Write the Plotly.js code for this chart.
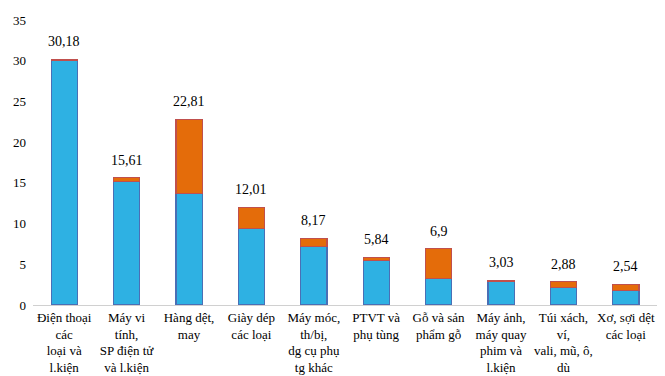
<!DOCTYPE html>
<html>
<head>
<meta charset="utf-8">
<script src="https://cdn.plot.ly/plotly-3.0.1.min.js"></script>
<style>body{margin:0;background:#fff}#chart{width:665px;height:376px}</style>
</head>
<body>
<div id="chart"></div>
<script>
const categories = [
  "Điện thoại<br>các<br>loại và<br>l.kiện",
  "Máy vi<br>tính,<br>SP điện tử<br>và l.kiện",
  "Hàng dệt,<br>may",
  "Giày dép<br>các loại",
  "Máy móc,<br>th/bị,<br>dg cụ phụ<br>tg khác",
  "PTVT và<br>phụ tùng",
  "Gỗ và sản<br>phẩm gỗ",
  "Máy ảnh,<br>máy quay<br>phim và<br>l.kiện",
  "Túi xách,<br>ví,<br>vali, mũ, ô,<br>dù",
  "Xơ, sợi dệt<br>các loại"
];
const blueValues = [30.0, 15.15, 13.7, 9.37, 7.16, 5.44, 3.23, 2.86, 2.17, 1.76];
const orangeValues = [0.18, 0.46, 9.11, 2.64, 1.01, 0.40, 3.67, 0.17, 0.71, 0.78];
const totals = [30.18, 15.61, 22.81, 12.01, 8.17, 5.84, 6.9, 3.03, 2.88, 2.54];
const totalLabels = ["30,18", "15,61", "22,81", "12,01", "8,17", "5,84", "6,9", "3,03", "2,88", "2,54"];
const yTicks = [0, 5, 10, 15, 20, 25, 30, 35];

const font = {family: "Liberation Serif, Times New Roman, serif", color: "#000"};

const traces = [
  {type: "bar", x: categories, y: blueValues, marker: {color: "#2eb1e3", line: {color: "#4a6fb5", width: 1.2}}, hoverinfo: "none"},
  {type: "bar", x: categories, y: orangeValues, marker: {color: "#e46c0a", line: {color: "#c0504d", width: 1.2}}, hoverinfo: "none"}
];

const annotations = categories.map((c, i) => ({
  x: c, y: totals[i], text: totalLabels[i], showarrow: false,
  yanchor: "bottom", yshift: 8, font: Object.assign({size: 14}, font)
}));

const layout = {
  width: 665, height: 376,
  margin: {l: 33, r: 8, t: 20, b: 71},
  barmode: "stack",
  bargap: 0.58,
  showlegend: false,
  paper_bgcolor: "#fff", plot_bgcolor: "#fff",
  font: Object.assign({size: 13}, font),
  xaxis: {
    showline: true, linecolor: "#d0d0d0", linewidth: 1,
    ticks: "", tickfont: Object.assign({size: 13}, font), tickangle: 0
  },
  yaxis: {
    range: [0, 35], tickvals: yTicks, showgrid: false, zeroline: false,
    showline: false, ticks: "", tickfont: Object.assign({size: 13}, font), ticklabelstandoff: 6
  },
  annotations: annotations
};

Plotly.newPlot("chart", traces, layout, {staticPlot: true});
</script>
</body>
</html>
